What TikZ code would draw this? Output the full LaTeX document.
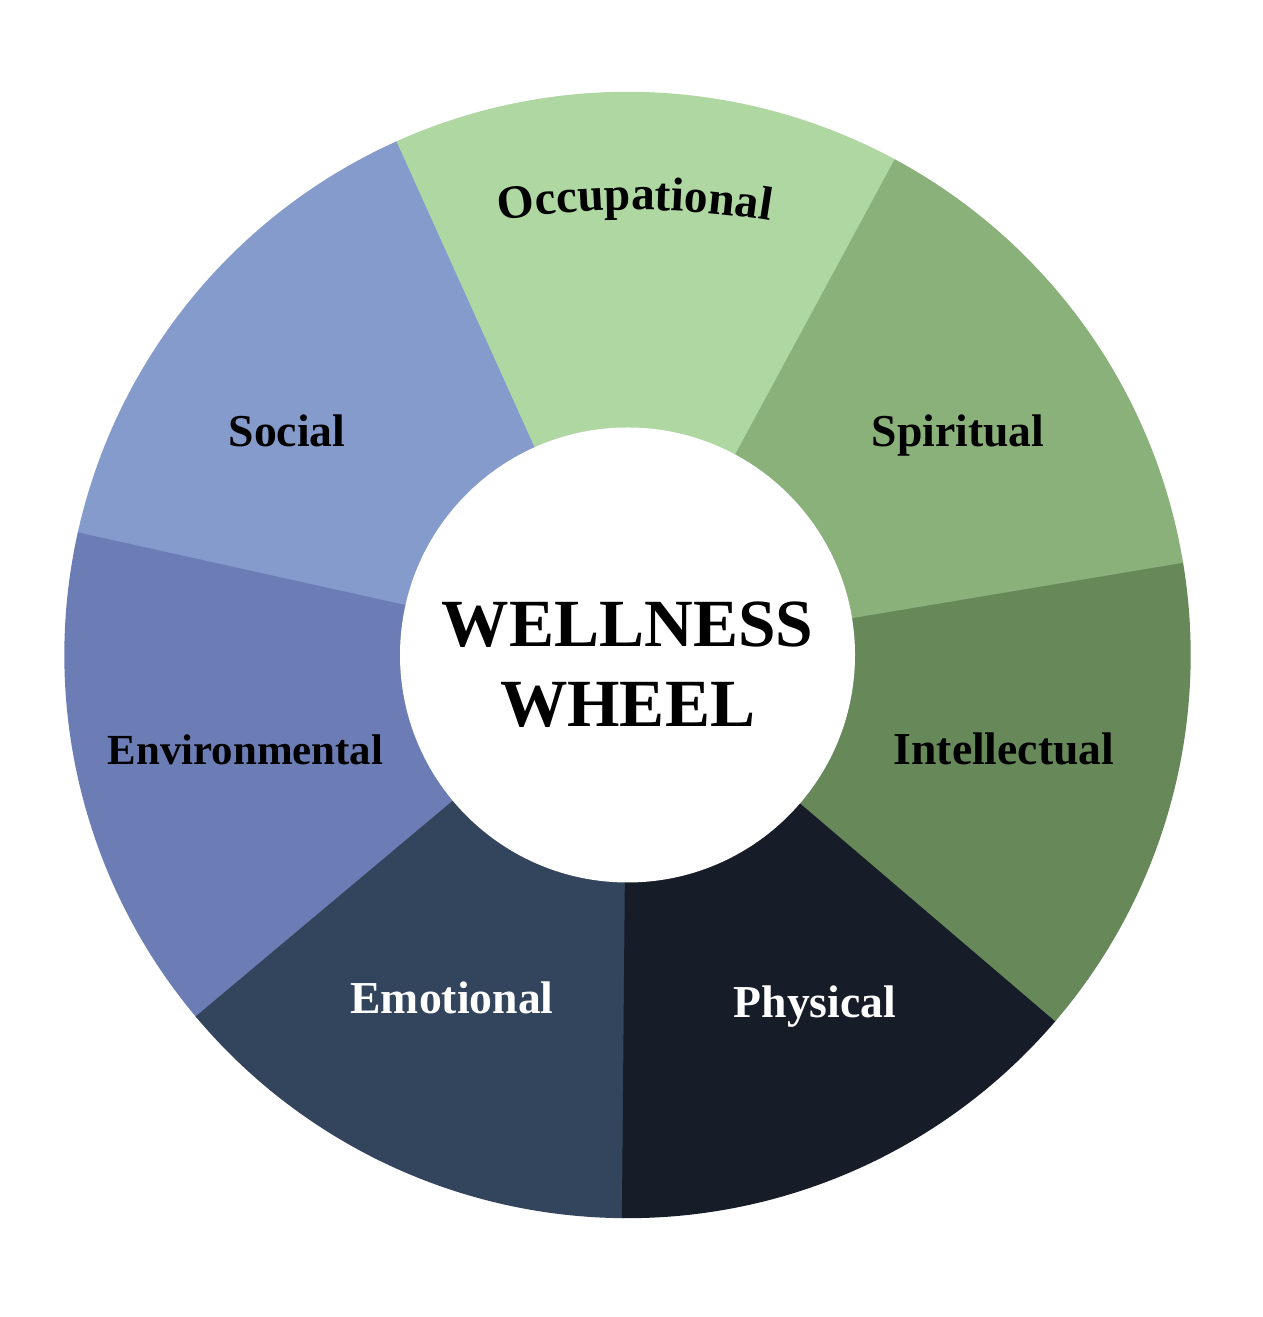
\documentclass[tikz,border=0pt]{standalone}
\usepackage{fontspec}
\setmainfont{Liberation Serif}
\usepackage{xcolor}
\usetikzlibrary{decorations.text,calc}
\definecolor{occc}{HTML}{AFD7A2}
\definecolor{spic}{HTML}{8BB17A}
\definecolor{intc}{HTML}{67895A}
\definecolor{phyc}{HTML}{161C28}
\definecolor{emoc}{HTML}{33455C}
\definecolor{envc}{HTML}{6C7DB5}
\definecolor{socc}{HTML}{849BCC}

\begin{document}
\begin{tikzpicture}[x=1cm,y=1cm,
    seglabel/.style={anchor=base, font=\bfseries\fontsize{13}{15}\selectfont},
    titlelabel/.style={anchor=base, font=\bfseries\fontsize{19.2}{22}\selectfont}]
  \useasboundingbox (0,0) rectangle (12.62,13.17);
  \fill[white] (0,0) rectangle (12.62,13.17);

  % ============================================================
  %                       PARAMETERS
  % ============================================================
  \def\rOuter{5.625}
  \def\rInner{2.275}
  \coordinate (hub) at (6.275,6.62);

  % ============================================================
  %                       SEGMENTS
  % ============================================================
  \foreach \a/\b/\col in {61.6/114.3/occc, 114.3/167.5/socc, 167.5/220/envc,
                          220/269.5/emoc, 269.5/319.5/phyc, 319.5/369.5/intc,
                          9.5/61.6/spic} {
    \filldraw[fill=\col, draw=\col, line width=0.4pt]
      (hub) -- ++(\a:\rOuter) arc[start angle=\a, end angle=\b, radius=\rOuter] -- cycle;
  }
  \fill[white] (hub) circle (\rInner);

  % ============================================================
  %                       LABELS
  % ============================================================
  \node[titlelabel] (wellness) at (6.275,6.70) {WELLNESS};
  \node[titlelabel] (wheel)    at (6.275,5.90) {WHEEL};

  \node[seglabel] (social)        at (2.87,8.70) {Social};
  \node[seglabel] (spiritual)     at (9.58,8.70) {Spiritual};
  \node[seglabel, font=\bfseries\fontsize{12.2}{15}\selectfont]
    (environmental) at (2.455,5.52) {Environmental};
  \node[seglabel] (intellectual)  at (10.04,5.52) {Intellectual};
  \node[seglabel, white] (emotional) at (4.52,3.03) {Emotional};
  \node[seglabel, white] (physical)  at (8.15,2.99) {Physical};

  % arched label on top
  \coordinate (archub) at (6.35,2.77);
  \path[decorate, decoration={text along path, text align=center,
        text={|\bfseries\fontsize{13.5}{15}\selectfont|Occupational}}]
    ($(archub)+(102:8.3)$) arc[start angle=102, end angle=78, radius=8.3];

\end{tikzpicture}
\end{document}
